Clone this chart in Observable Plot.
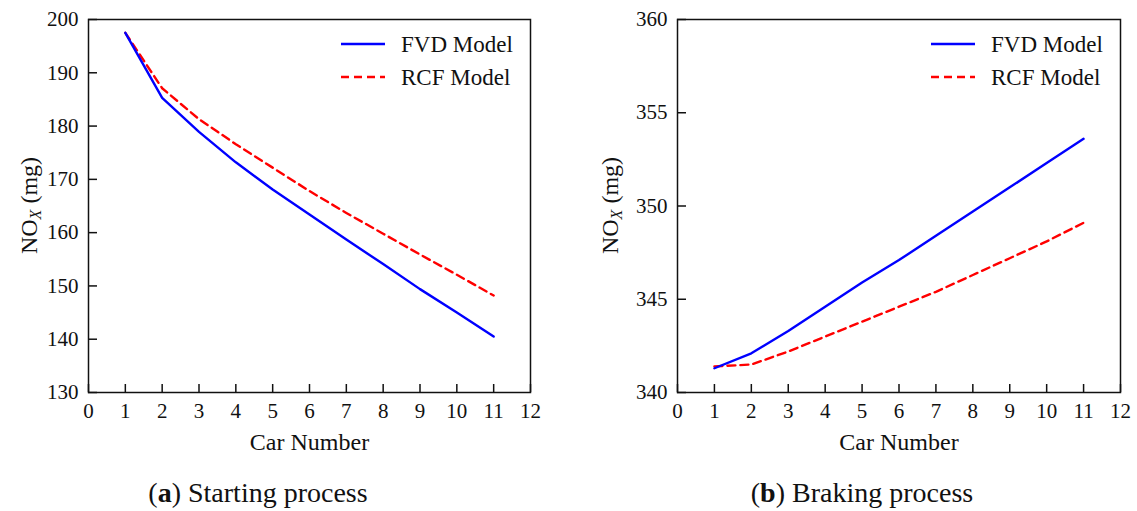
<!DOCTYPE html>
<html>
<head>
<meta charset="utf-8">
<script src="https://cdn.jsdelivr.net/npm/d3@7"></script>
<script src="https://cdn.jsdelivr.net/npm/@observablehq/plot@0.6"></script>
<style>
  html, body { margin: 0; padding: 0; background: #fff; }
  #wrap { position: relative; width: 1137px; height: 511px; font-family: "Liberation Serif", serif; }
  #wrap svg { position: absolute; top: 0; }
  #wrap svg text { font-family: "Liberation Serif", serif; }
  .cap { position: absolute; top: 477px; transform: translateX(-50%); font-size: 28px; white-space: nowrap; color: #111; line-height: 32px; }
</style>
</head>
<body>
<div id="wrap"></div>
<script>
// ---- data ----
const carNumbers = [1, 2, 3, 4, 5, 6, 7, 8, 9, 10, 11];
const startFVD = [197.5, 185.3, 178.9, 173.2, 168.1, 163.4, 158.7, 154.1, 149.4, 145.0, 140.5];
const startRCF = [197.5, 187.1, 181.3, 176.6, 172.2, 167.8, 163.7, 159.8, 155.9, 152.1, 148.2];
const brakeFVD = [341.3, 342.1, 343.3, 344.6, 345.9, 347.1, 348.4, 349.7, 351.0, 352.3, 353.6];
const brakeRCF = [341.4, 341.5, 342.2, 343.0, 343.8, 344.6, 345.4, 346.3, 347.2, 348.1, 349.1];
const xTicks = [0, 1, 2, 3, 4, 5, 6, 7, 8, 9, 10, 11, 12];
const startTicks = [130, 140, 150, 160, 170, 180, 190, 200];
const brakeTicks = [340, 345, 350, 355, 360];
const seriesNames = ["FVD Model", "RCF Model"];
const xLabel = "Car Number";
const captions = [["a", " Starting process"], ["b", " Braking process"]];

const FONT = '"Liberation Serif", "Times New Roman", serif';
const H = 460;

function panel({fvd, rcf, yTicks, width, marginLeft, marginRight, yLabelX, left}) {
  const marginTop = 19, marginBottom = 68;
  const pw = width - marginLeft - marginRight;
  const ph = H - marginTop - marginBottom;
  const rowsF = carNumbers.map((c, i) => ({car: c, v: fvd[i]}));
  const rowsR = carNumbers.map((c, i) => ({car: c, v: rcf[i]}));
  const plot = Plot.plot({
    width, height: H, marginLeft, marginRight, marginTop, marginBottom,
    style: {fontFamily: FONT, fontSize: "21px", color: "#111", background: "white", overflow: "visible"},
    x: {domain: [0, 12], ticks: xTicks},
    y: {domain: [yTicks[0], yTicks[yTicks.length - 1]], ticks: yTicks},
    marks: [
      Plot.axisX(xTicks, {tickSize: 0, tickPadding: 11, label: null, fontSize: 21}),
      Plot.axisY(yTicks, {tickSize: 0, tickPadding: 10, label: null, fontSize: 21}),
      Plot.tickX(xTicks, {x: d => d, insetTop: ph - 8, stroke: "#111", strokeWidth: 1.5}),
      Plot.tickY(yTicks, {y: d => d, insetRight: pw - 9, stroke: "#111", strokeWidth: 1.5}),
      Plot.frame({stroke: "#111", strokeWidth: 1.5}),
      Plot.line(rowsR, {x: "car", y: "v", stroke: "#ff0000", strokeWidth: 2.4, strokeDasharray: "8,5"}),
      Plot.line(rowsF, {x: "car", y: "v", stroke: "#0000ff", strokeWidth: 2.4}),
      Plot.text([xLabel], {text: d => d, frameAnchor: "bottom", dy: 57, fontSize: 24, fill: "#111"})
    ]
  });
  plot.style.left = left + "px";
  const svg = d3.select(plot);
  // y label with subscript
  const yl = svg.append("text")
    .attr("transform", `translate(${yLabelX},${marginTop + ph / 2}) rotate(-90)`)
    .attr("text-anchor", "middle")
    .attr("font-size", 24).attr("fill", "#111");
  yl.append("tspan").text("NO");
  yl.append("tspan").attr("font-style", "italic").attr("font-size", 16).attr("dy", 4).text("X");
  yl.append("tspan").attr("dy", -4).text(" (mg)");
  // legend
  const fr = width - marginRight;
  const leg = [{name: seriesNames[0], color: "#0000ff", dash: null, y: marginTop + 25},
               {name: seriesNames[1], color: "#ff0000", dash: "8,5", y: marginTop + 58}];
  leg.forEach(l => {
    svg.append("line").attr("x1", fr - 189).attr("x2", fr - 145).attr("y1", l.y).attr("y2", l.y)
      .attr("stroke", l.color).attr("stroke-width", 2.4).attr("stroke-dasharray", l.dash);
    svg.append("text").attr("x", fr - 129).attr("y", l.y + 8)
      .attr("text-anchor", "start")
      .attr("font-size", 23).attr("fill", "#111").text(l.name);
  });
  return plot;
}

const wrap = document.getElementById("wrap");
wrap.appendChild(panel({fvd: startFVD, rcf: startRCF, yTicks: startTicks, width: 568, marginLeft: 88, marginRight: 38, yLabelX: 37, left: 0}));
wrap.appendChild(panel({fvd: brakeFVD, rcf: brakeRCF, yTicks: brakeTicks, width: 569, marginLeft: 109, marginRight: 17, yLabelX: 50, left: 568}));

const capX = [258, 862];
captions.forEach((c, i) => {
  const d = document.createElement("div");
  d.className = "cap";
  d.style.left = capX[i] + "px";
  d.innerHTML = `(<b>${c[0]}</b>)${c[1]}`;
  wrap.appendChild(d);
});
</script>
</body>
</html>
